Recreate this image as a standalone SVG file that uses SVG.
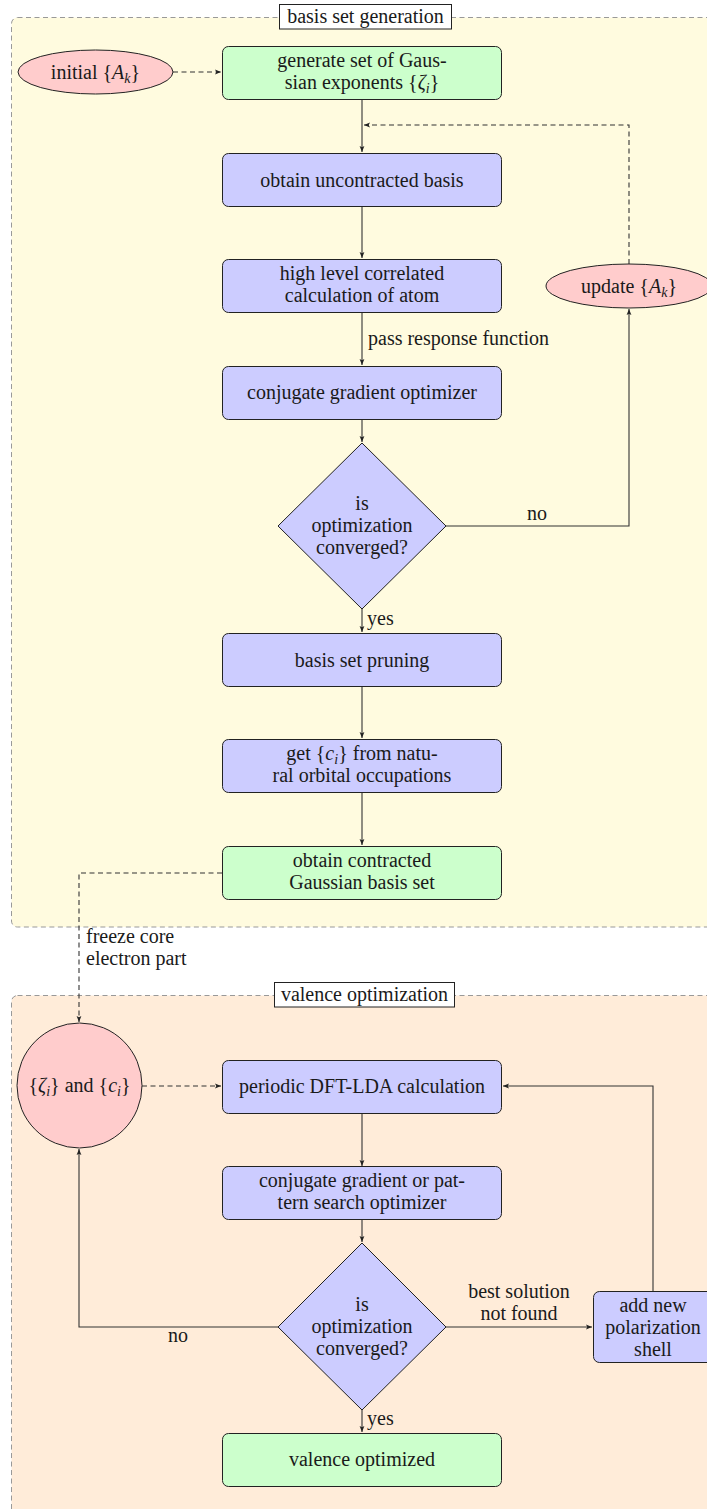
<svg xmlns="http://www.w3.org/2000/svg" width="707" height="1509" viewBox="0 0 707 1509" font-family="'Liberation Serif', 'DejaVu Serif', serif">
<defs>
<style>
text{font-family:"Liberation Serif","DejaVu Serif",serif;font-size:20px;fill:#1a1a1a}
.c{text-anchor:middle}
.i{font-style:italic}
.sub{font-style:italic;font-size:14px}
.blue{fill:#ccccff;stroke:#222;stroke-width:1}
.green{fill:#ccffcc;stroke:#222;stroke-width:1}
.red{fill:#ffcccc;stroke:#222;stroke-width:1}
.ln{fill:none;stroke:#333;stroke-width:1.1}
.dash{fill:none;stroke:#333;stroke-width:1.1;stroke-dasharray:5 3.5}
.region{stroke:#999;stroke-width:1;stroke-dasharray:5 3.5}
.title{fill:#fff;stroke:#222;stroke-width:1}
</style>
<marker id="ah" markerUnits="userSpaceOnUse" markerWidth="8" markerHeight="8" refX="6" refY="4" orient="auto">
<path d="M0,1.6 L6,4 L0,6.4 L1.3,4 z" fill="#222"/>
</marker>
</defs>

<g id="region-basis">
<rect class="region" x="11.5" y="17.5" width="720" height="909.5" rx="6" fill="#fffbdf"/>
<rect class="title" x="279.5" y="4.5" width="172" height="24.5"/>
<text class="c" x="365.5" y="23">basis set generation</text>
</g>
<g id="region-valence">
<rect class="region" x="11.5" y="995.5" width="720" height="530" rx="6" fill="#ffecd9"/>
<rect class="title" x="274.5" y="982.5" width="180" height="24.5"/>
<text class="c" x="364.5" y="1001">valence optimization</text>
</g>

<g id="connectors">
<path class="dash" d="M173,72 H221" marker-end="url(#ah)"/>
<path class="ln" d="M362,99 V152" marker-end="url(#ah)"/>
<path class="dash" d="M629,264 V125 H364" marker-end="url(#ah)"/>
<path class="ln" d="M362,206 V258" marker-end="url(#ah)"/>
<path class="ln" d="M362,313 V365" marker-end="url(#ah)"/>
<text x="368" y="345">pass response function</text>
<path class="ln" d="M362,419 V442" marker-end="url(#ah)"/>
<path class="ln" d="M446,526 H629 V309" marker-end="url(#ah)"/>
<text class="c" x="537" y="520">no</text>
<path class="ln" d="M362,609 V632" marker-end="url(#ah)"/>
<text x="367" y="625">yes</text>
<path class="ln" d="M362,686 V738" marker-end="url(#ah)"/>
<path class="ln" d="M362,793 V845" marker-end="url(#ah)"/>
<path class="dash" d="M222,873 H79 V1022" marker-end="url(#ah)"/>
<text x="86" y="943">freeze core</text>
<text x="86" y="965">electron part</text>
<path class="dash" d="M142,1086 H221" marker-end="url(#ah)"/>
<path class="ln" d="M362,1113 V1166" marker-end="url(#ah)"/>
<path class="ln" d="M362,1219 V1242" marker-end="url(#ah)"/>
<path class="ln" d="M279,1327 H79 V1149" marker-end="url(#ah)"/>
<text class="c" x="178" y="1342">no</text>
<path class="ln" d="M446,1327 H592" marker-end="url(#ah)"/>
<text class="c" x="519" y="1298">best solution</text>
<text class="c" x="519" y="1320">not found</text>
<path class="ln" d="M653,1291 V1086 H503" marker-end="url(#ah)"/>
<path class="ln" d="M362,1410 V1432" marker-end="url(#ah)"/>
<text x="367" y="1425">yes</text>
</g>

<g id="initial">
<ellipse class="red" cx="95.5" cy="72" rx="77.5" ry="22"/>
<text class="c" x="95.5" y="78.5">initial {<tspan class="i">A</tspan><tspan class="sub" dy="4">k</tspan><tspan dy="-4">}</tspan></text>
</g>
<g id="generate">
<rect class="green" x="222.5" y="46.5" width="279" height="53" rx="6"/>
<text class="c" x="362" y="66.5">generate set of Gaus-</text>
<text class="c" x="362" y="88.5">sian exponents {<tspan class="i">ζ</tspan><tspan class="sub" dy="4">i</tspan><tspan dy="-4">}</tspan></text>
</g>
<g id="uncontracted">
<rect class="blue" x="222.5" y="153.5" width="279" height="53" rx="6"/>
<text class="c" x="362" y="186.5">obtain uncontracted basis</text>
</g>
<g id="correlated">
<rect class="blue" x="222.5" y="259.5" width="279" height="53" rx="6"/>
<text class="c" x="362" y="280">high level correlated</text>
<text class="c" x="362" y="302">calculation of atom</text>
</g>
<g id="update">
<ellipse class="red" cx="629" cy="286" rx="83" ry="22"/>
<text class="c" x="629" y="292.5">update {<tspan class="i">A</tspan><tspan class="sub" dy="4">k</tspan><tspan dy="-4">}</tspan></text>
</g>
<g id="cg">
<rect class="blue" x="222.5" y="366.5" width="279" height="53" rx="6"/>
<text class="c" x="362" y="399">conjugate gradient optimizer</text>
</g>
<g id="converged1">
<polygon class="blue" points="362,443 446,526 362,609 278,526"/>
<text class="c" x="362" y="510">is</text>
<text class="c" x="362" y="532">optimization</text>
<text class="c" x="362" y="554">converged?</text>
</g>
<g id="pruning">
<rect class="blue" x="222.5" y="633.5" width="279" height="53" rx="6"/>
<text class="c" x="362" y="666.5">basis set pruning</text>
</g>
<g id="getci">
<rect class="blue" x="222.5" y="739.5" width="279" height="53" rx="6"/>
<text class="c" x="362" y="760">get {<tspan class="i">c</tspan><tspan class="sub" dy="4">i</tspan><tspan dy="-4">} from natu-</tspan></text>
<text class="c" x="362" y="782">ral orbital occupations</text>
</g>
<g id="contracted">
<rect class="green" x="222.5" y="846.5" width="279" height="53" rx="6"/>
<text class="c" x="362" y="867">obtain contracted</text>
<text class="c" x="362" y="889">Gaussian basis set</text>
</g>
<g id="zetac">
<circle class="red" cx="79.5" cy="1085.5" r="62.5"/>
<text class="c" x="79.5" y="1092">{<tspan class="i">ζ</tspan><tspan class="sub" dy="4">i</tspan><tspan dy="-4">} and {</tspan><tspan class="i">c</tspan><tspan class="sub" dy="4">i</tspan><tspan dy="-4">}</tspan></text>
</g>
<g id="periodic">
<rect class="blue" x="222.5" y="1060.5" width="279" height="53" rx="6"/>
<text class="c" x="362" y="1093">periodic DFT-LDA calculation</text>
</g>
<g id="cg2">
<rect class="blue" x="222.5" y="1166.5" width="279" height="53" rx="6"/>
<text class="c" x="362" y="1187">conjugate gradient or pat-</text>
<text class="c" x="362" y="1209">tern search optimizer</text>
</g>
<g id="converged2">
<polygon class="blue" points="362,1243 446,1327 362,1410 278,1327"/>
<text class="c" x="362" y="1311">is</text>
<text class="c" x="362" y="1333">optimization</text>
<text class="c" x="362" y="1355">converged?</text>
</g>
<g id="polarization">
<rect class="blue" x="593.5" y="1291.5" width="120" height="71" rx="6"/>
<text class="c" x="653" y="1312">add new</text>
<text class="c" x="653" y="1334">polarization</text>
<text class="c" x="653" y="1356">shell</text>
</g>
<g id="valence">
<rect class="green" x="222.5" y="1433.5" width="279" height="53" rx="6"/>
<text class="c" x="362" y="1466">valence optimized</text>
</g>
</svg>
